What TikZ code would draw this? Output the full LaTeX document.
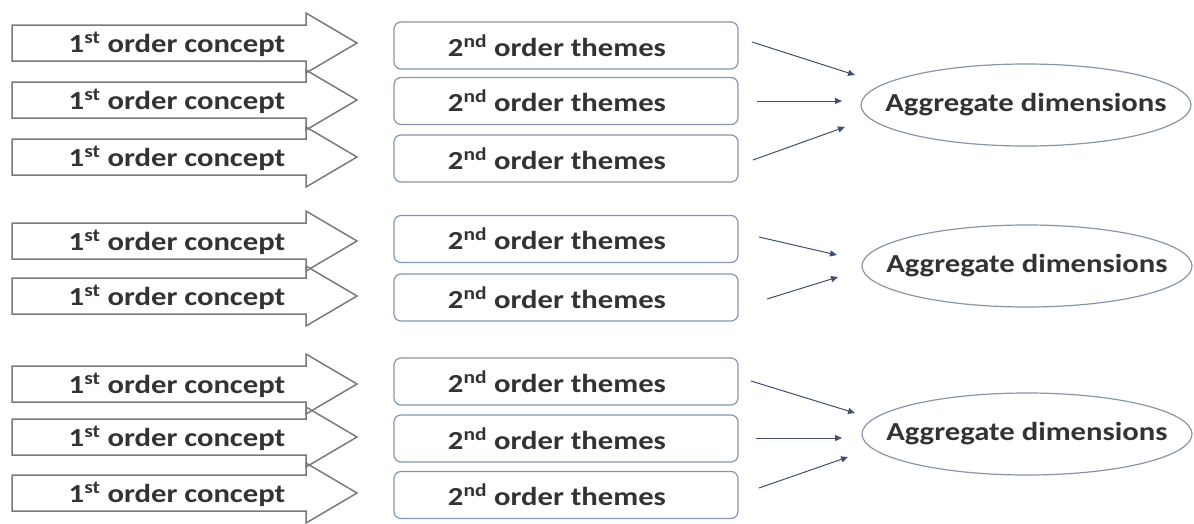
\documentclass[tikz,border=0pt]{standalone}
\usepackage{fontspec}
\usepackage{graphicx}
\setmainfont{Carlito}
\usetikzlibrary{arrows.meta,shapes.geometric}
\definecolor{txt}{HTML}{333333}
\definecolor{arrowgray}{HTML}{7A7A7A}
\definecolor{boxgray}{HTML}{8497B0}
\definecolor{ellgray}{HTML}{8A95A8}
\definecolor{linkblue}{HTML}{3F4F70}
% labels are set a little wider than the font's natural width
\newcommand\widetext[1]{\scalebox{1.18}[1]{#1}}
\begin{document}
\begin{tikzpicture}[x=1pt,y=-1pt,
  font=\bfseries\fontsize{26}{30}\selectfont, text=txt,
  label/.style={inner sep=0pt},
  concept/.style={draw=arrowgray, line width=1.5pt, line join=miter},
  theme/.style={draw=boxgray, rounded corners=7pt, line width=1.2pt,
    minimum width=344pt, minimum height=47pt, inner sep=0pt},
  aggr/.style={ellipse, draw=ellgray, line width=1.2pt,
    minimum width=330pt, minimum height=82pt, inner sep=0pt},
  link/.style={draw=linkblue, line width=1pt,
    -{Triangle[length=7pt,width=6pt]}}]
\useasboundingbox[fill=white] (0,0) rectangle (1194,523);

% first-order concepts: block arrows with their labels
\foreach \n/\y in {c1/43,c2/100,c3/157,c4/241,c5/296,c6/384,c7/437,c8/493}{
  \draw[concept] (12,\y-18) -- (306,\y-18) -- (306,\y-30) -- (357,\y)
    -- (306,\y+30) -- (306,\y+18) -- (12,\y+18) -- cycle;
  \node[label] (\n) at (177,\y+1) {\widetext{1\textsuperscript{st} order concept}};
}

% second-order themes
\foreach \n/\y in {t1/45.5,t2/101,t3/158.5,t4/239,t5/297.5,t6/381.5,t7/438.5,t8/495}{
  \node[theme] (\n) at (566,\y) {};
  \node[label] (\n l) at (557,\y) {\widetext{2\textsuperscript{nd} order themes}};
}

% aggregate dimensions
\foreach \n/\x/\y in {d1/1026/105,d2/1027/266,d3/1027/434}{
  \node[aggr] (\n) at (\x,\y) {};
  \node[label] (\n l) at (\x,\y) {\widetext{Aggregate dimensions}};
}

% link ends
\coordinate (s1) at (752,42);  \coordinate (e1) at (855,75);
\coordinate (s2) at (757,101); \coordinate (e2) at (842,101);
\coordinate (s3) at (753,160); \coordinate (e3) at (845,127);
\coordinate (s4) at (759,237); \coordinate (e4) at (837,255);
\coordinate (s5) at (767,299); \coordinate (e5) at (838,277);
\coordinate (s6) at (751,381); \coordinate (e6) at (855,413);
\coordinate (s7) at (756,438); \coordinate (e7) at (842,438);
\coordinate (s8) at (759,488); \coordinate (e8) at (848,457);

\foreach \i in {1,...,8}{ \draw[link] (s\i) -- (e\i); }
\end{tikzpicture}
\end{document}
